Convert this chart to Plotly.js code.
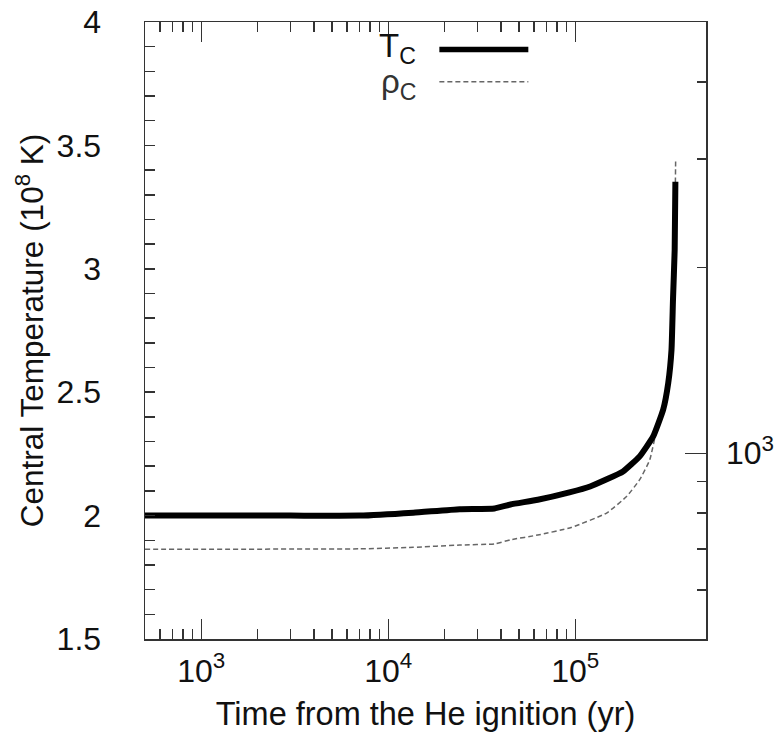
<!DOCTYPE html>
<html>
<head>
<meta charset="utf-8">
<script src="https://cdn.plot.ly/plotly-3.0.1.min.js"></script>
<style>html,body{margin:0;padding:0;background:#fff;}#chart{width:776px;height:739px;}</style>
</head>
<body>
<div id="chart"></div>
<script>
// Central temperature (10^8 K) vs time from He ignition (yr)
const timeT = [500, 1000, 3000, 7000, 13600, 24100, 37000, 45000, 63000, 93000, 120000, 180000, 221000, 261000, 295000, 314000, 327000, 333000, 340000, 343000];
const tempT = [2.0, 2.0, 2.0, 2.0, 2.012, 2.026, 2.029, 2.045, 2.064, 2.094, 2.118, 2.179, 2.240, 2.321, 2.429, 2.537, 2.672, 2.875, 3.077, 3.353];

// Central density (right log axis)
const timeRho = [500, 7000, 13600, 24100, 37000, 45000, 63000, 95000, 147000, 188000, 221000, 250000, 272000, 283000, 295000, 314000, 327000, 333000, 341000, 343000, 344000];
const rhoC = [699, 700, 704, 710, 713, 724, 737, 758, 800, 851, 906, 975, 1091, 1148, 1180, 1300, 1472, 1775, 2140, 2750, 2970];

// Tick labels
const xTickVals = [1000, 10000, 100000];
const xTickText = ['10<sup>3</sup>', '10<sup>4</sup>', '10<sup>5</sup>'];
const xMinorVals = [600, 700, 800, 900, 2000, 3000, 4000, 5000, 6000, 7000, 8000, 9000, 20000, 30000, 40000, 50000, 60000, 70000, 80000, 90000];
const yTickVals = [1.5, 2, 2.5, 3, 3.5, 4];
const yTickText = ['1.5', '2', '2.5', '3', '3.5', '4'];
const rhoTickVals = [1000];
const rhoTickText = ['10<sup>3</sup>'];
const rhoMinorVals = [600, 700, 800, 900, 2000, 3000, 4000];

const FONT = 'Liberation Sans, Arial, sans-serif';
const AX = '#333';
const TXT = '#111';

const traces = [
  {
    x: timeRho, y: rhoC, xaxis: 'x', yaxis: 'y', type: 'scatter', mode: 'lines',
    name: '\u03c1<sub>C</sub>', line: {color: '#666', width: 1.5, dash: '5px,3px', shape: 'spline', smoothing: 0.4}, showlegend: false
  },
  {
    x: timeT, y: tempT, xaxis: 'x', yaxis: 'y2', type: 'scatter', mode: 'lines',
    name: 'T<sub>C</sub>', line: {color: '#000', width: 6, shape: 'spline', smoothing: 0.4}, showlegend: false
  }
];

const layout = {
  width: 776, height: 739,
  margin: {l: 145, r: 70, t: 22, b: 100},
  paper_bgcolor: '#fff', plot_bgcolor: '#fff',
  font: {family: FONT, color: TXT, size: 32},
  showlegend: false,
  xaxis: {
    type: 'log', range: [Math.log10(500), Math.log10(500000)],
    showline: true, linecolor: AX, linewidth: 1.5, mirror: 'ticks',
    ticks: 'inside', ticklen: 20, tickwidth: 1.5, tickcolor: AX,
    tickmode: 'array', tickvals: xTickVals, ticktext: xTickText,
    minor: {tickmode: 'array', tickvals: xMinorVals, ticks: 'inside', ticklen: 10, tickwidth: 1.5, tickcolor: AX, showgrid: false},
    showgrid: false, zeroline: false, ticklabelstandoff: 3,
    tickfont: {family: FONT, size: 32, color: TXT},
    title: {text: 'Time from the He ignition (yr)', font: {family: FONT, size: 32.5, color: TXT}, standoff: 14}
  },
  yaxis: {
    type: 'log', range: [Math.log10(500), Math.log10(5000)], side: 'right',
    showline: true, linecolor: AX, linewidth: 1.5,
    ticks: 'inside', ticklen: 21, tickwidth: 1.5, tickcolor: AX,
    tickmode: 'array', tickvals: rhoTickVals, ticktext: rhoTickText,
    minor: {tickmode: 'array', tickvals: rhoMinorVals, ticks: 'inside', ticklen: 9, tickwidth: 1.5, tickcolor: AX, showgrid: false},
    showgrid: false, zeroline: false, ticklabelstandoff: 12,
    tickfont: {family: FONT, size: 32, color: TXT}
  },
  yaxis2: {
    overlaying: 'y', side: 'left', range: [1.5, 4],
    showline: true, linecolor: AX, linewidth: 1.5,
    ticks: 'inside', ticklen: 10, tickwidth: 1.5, tickcolor: AX,
    tickmode: 'array', tickvals: yTickVals, ticktext: yTickText,
    minor: {dtick: 0.1, ticks: 'inside', ticklen: 10, tickwidth: 1.5, tickcolor: AX, showgrid: false},
    showgrid: false, zeroline: false, ticklabelstandoff: 36,
    tickfont: {family: FONT, size: 32, color: TXT},
    title: {text: 'Central Temperature (10<sup>8</sup> K)', font: {family: FONT, size: 31.5, color: TXT}, standoff: 3}
  },
  annotations: [
    {xref: 'paper', yref: 'paper', x: 0.487, y: 0.958, xanchor: 'right', yanchor: 'middle', showarrow: false,
     text: 'T<sub>C</sub>', font: {family: FONT, size: 33, color: TXT}},
    {xref: 'paper', yref: 'paper', x: 0.487, y: 0.899, xanchor: 'right', yanchor: 'middle', showarrow: false,
     text: '\u03c1<sub>C</sub>', font: {family: FONT, size: 33, color: '#333'}}
  ],
  shapes: [
    {type: 'line', xref: 'paper', yref: 'paper', x0: 0.5247, x1: 0.6833, y0: 0.9554, y1: 0.9554, line: {color: '#000', width: 5.5}},
    {type: 'line', xref: 'paper', yref: 'paper', x0: 0.5247, x1: 0.6833, y0: 0.903, y1: 0.903, line: {color: '#666', width: 1.5, dash: '5px,3px'}}
  ]
};

Plotly.newPlot('chart', traces, layout, {displayModeBar: false, staticPlot: true});
</script>
</body>
</html>
